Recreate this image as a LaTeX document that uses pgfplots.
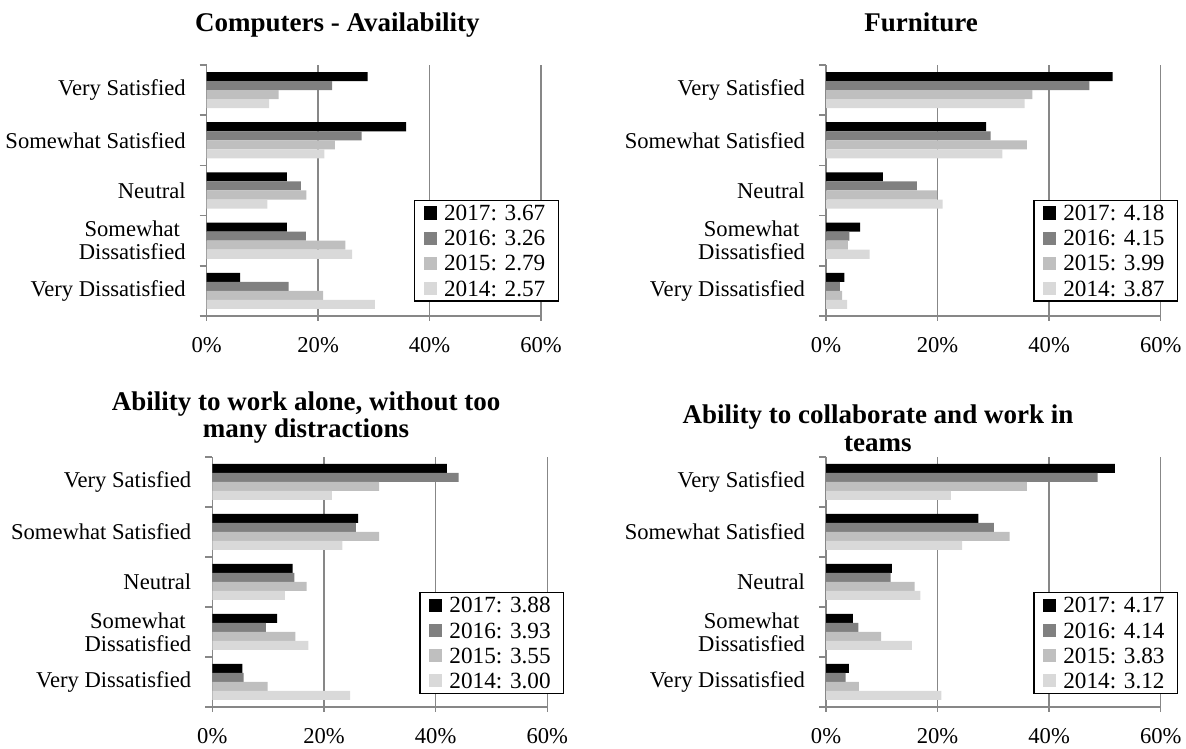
\documentclass[border=0pt]{standalone}
\usepackage{pgfplots}
\pgfplotsset{compat=1.18}
\usepackage{pgfplotstable}
\usepackage{fontspec}
\setmainfont{Liberation Serif}

\definecolor{c17}{RGB}{0,0,0}
\definecolor{c16}{RGB}{128,128,128}
\definecolor{c15}{RGB}{191,191,191}
\definecolor{c14}{RGB}{217,217,217}
\definecolor{gridc}{RGB}{135,135,135}

% columns: cat (4=Very Satisfied ... 0=Very Dissatisfied), years
\pgfplotstableread{
cat y17 y16 y15 y14
4 28.9 22.5 12.9 11.2
3 35.8 27.8 23.0 21.1
2 14.4 16.9 17.9 10.9
1 14.4 17.8 24.9 26.1
0 6.0 14.7 20.9 30.2
}\tcomp
\pgfplotstableread{
cat y17 y16 y15 y14
4 51.4 47.2 37.0 35.6
3 28.7 29.5 36.0 31.6
2 10.2 16.3 19.9 20.9
1 6.1 4.2 3.9 7.8
0 3.3 2.5 2.9 3.8
}\tfurn
\pgfplotstableread{
cat y17 y16 y15 y14
4 42.0 44.1 29.9 21.4
3 26.1 25.7 29.9 23.3
2 14.4 14.7 16.9 13.0
1 11.6 9.6 14.9 17.2
0 5.4 5.6 9.9 24.7
}\talone
\pgfplotstableread{
cat y17 y16 y15 y14
4 51.8 48.7 36.0 22.4
3 27.3 30.1 32.9 24.4
2 11.8 11.6 15.9 16.9
1 4.8 5.8 9.9 15.4
0 4.1 3.5 5.9 20.7
}\tcollab

\tikzset{ttl/.style={font=\bfseries\fontsize{13.5}{15}\selectfont, anchor=base}}

\pgfplotsset{
  mybar/.style={xbar, bar width=0.18, bar shift=#1, draw=none},
  sw/.style={legend image code/.code={\fill[#1] (0pt,-3.3pt) rectangle (6.6pt,3.3pt); \path (8.2pt,0pt);}},
  panel/.style={
    scale only axis, clip=false,
    xmin=0, xmax=60, ymin=-0.5, ymax=4.5,
    axis lines*=left,
    axis line style={draw=gridc, line width=0.75pt},
    xtick={0,20,40,60},
    xticklabels={0\%,20\%,40\%,60\%},
    xmajorgrids,
    major grid style={draw=gridc, line width=0.75pt},
    ytick={0,1,2,3,4},
    yticklabels={Very Dissatisfied,{Somewhat\\Dissatisfied},Neutral,Somewhat Satisfied,Very Satisfied},
    minor ytick={-0.5,0.5,1.5,2.5,3.5,4.5},
    tick align=outside,
    xtick style={draw=gridc, line width=0.75pt},
    major tick length=2.5pt,
    minor tick length=3.5pt,
    major y tick style={draw=none},
    minor y tick style={draw=gridc, line width=0.75pt},
    tick label style={font=\fontsize{11.3}{11.5}\selectfont},
    yticklabel style={align=center, xshift=-4.5pt},
    xticklabel style={yshift=-4.5pt},
    legend style={anchor=south east, draw=black, line width=0.75pt, fill=white,
      inner xsep=4.5pt, inner ysep=0pt,
      font=\fontsize{11.6}{13}\selectfont,
      nodes={inner ysep=2.5pt, inner xsep=2pt, text height=7.6pt, text depth=0pt},
      row sep=0pt, column sep=0pt},
    legend cell align=left,
  },
}

\begin{document}
\begin{tikzpicture}
\useasboundingbox (0,0) rectangle (593pt,374pt);

% Panel 1
\begin{axis}[panel, at={(103.35pt,216pt)}, anchor=south west,
  width=167.15pt, height=125.5pt,
  legend style={at={(1.054,0.056)}}]
\addplot[mybar=0.27, fill=c17, sw=c17] table[x=y17, y=cat] {\tcomp};
\addplot[mybar=0.09, fill=c16, sw=c16] table[x=y16, y=cat] {\tcomp};
\addplot[mybar=-0.09, fill=c15, sw=c15] table[x=y15, y=cat] {\tcomp};
\addplot[mybar=-0.27, fill=c14, sw=c14] table[x=y14, y=cat] {\tcomp};
\legend{2017: 3.67,2016: 3.26,2015: 2.79,2014: 2.57}
\node[ttl] at (axis description cs:0.391,1.133) {Computers - Availability};
\end{axis}

% Panel 2
\begin{axis}[panel, at={(413pt,216pt)}, anchor=south west,
  width=167.35pt, height=125.5pt,
  legend style={at={(1.0526,0.056)}}]
\addplot[mybar=0.27, fill=c17, sw=c17] table[x=y17, y=cat] {\tfurn};
\addplot[mybar=0.09, fill=c16, sw=c16] table[x=y16, y=cat] {\tfurn};
\addplot[mybar=-0.09, fill=c15, sw=c15] table[x=y15, y=cat] {\tfurn};
\addplot[mybar=-0.27, fill=c14, sw=c14] table[x=y14, y=cat] {\tfurn};
\legend{2017: 4.18,2016: 4.15,2015: 3.99,2014: 3.87}
\node[ttl] at (axis description cs:0.284,1.133) {Furniture};
\end{axis}

% Panel 3
\begin{axis}[panel, at={(106.15pt,20.5pt)}, anchor=south west,
  width=167.5pt, height=125pt,
  legend style={at={(1.051,0.051)}}]
\addplot[mybar=0.27, fill=c17, sw=c17] table[x=y17, y=cat] {\talone};
\addplot[mybar=0.09, fill=c16, sw=c16] table[x=y16, y=cat] {\talone};
\addplot[mybar=-0.09, fill=c15, sw=c15] table[x=y15, y=cat] {\talone};
\addplot[mybar=-0.27, fill=c14, sw=c14] table[x=y14, y=cat] {\talone};
\legend{2017: 3.88,2016: 3.93,2015: 3.55,2014: 3.00}
\node[ttl] at (axis description cs:0.280,1.185) {Ability to work alone, without too};
\node[ttl] at (axis description cs:0.280,1.076) {many distractions};
\end{axis}

% Panel 4
\begin{axis}[panel, at={(413pt,20.5pt)}, anchor=south west,
  width=167.35pt, height=125pt,
  legend style={at={(1.0526,0.051)}}]
\addplot[mybar=0.27, fill=c17, sw=c17] table[x=y17, y=cat] {\tcollab};
\addplot[mybar=0.09, fill=c16, sw=c16] table[x=y16, y=cat] {\tcollab};
\addplot[mybar=-0.09, fill=c15, sw=c15] table[x=y15, y=cat] {\tcollab};
\addplot[mybar=-0.27, fill=c14, sw=c14] table[x=y14, y=cat] {\tcollab};
\legend{2017: 4.17,2016: 4.14,2015: 3.83,2014: 3.12}
\node[ttl] at (axis description cs:0.155,1.135) {Ability to collaborate and work in};
\node[ttl] at (axis description cs:0.155,1.021) {teams};
\end{axis}
\end{tikzpicture}
\end{document}
